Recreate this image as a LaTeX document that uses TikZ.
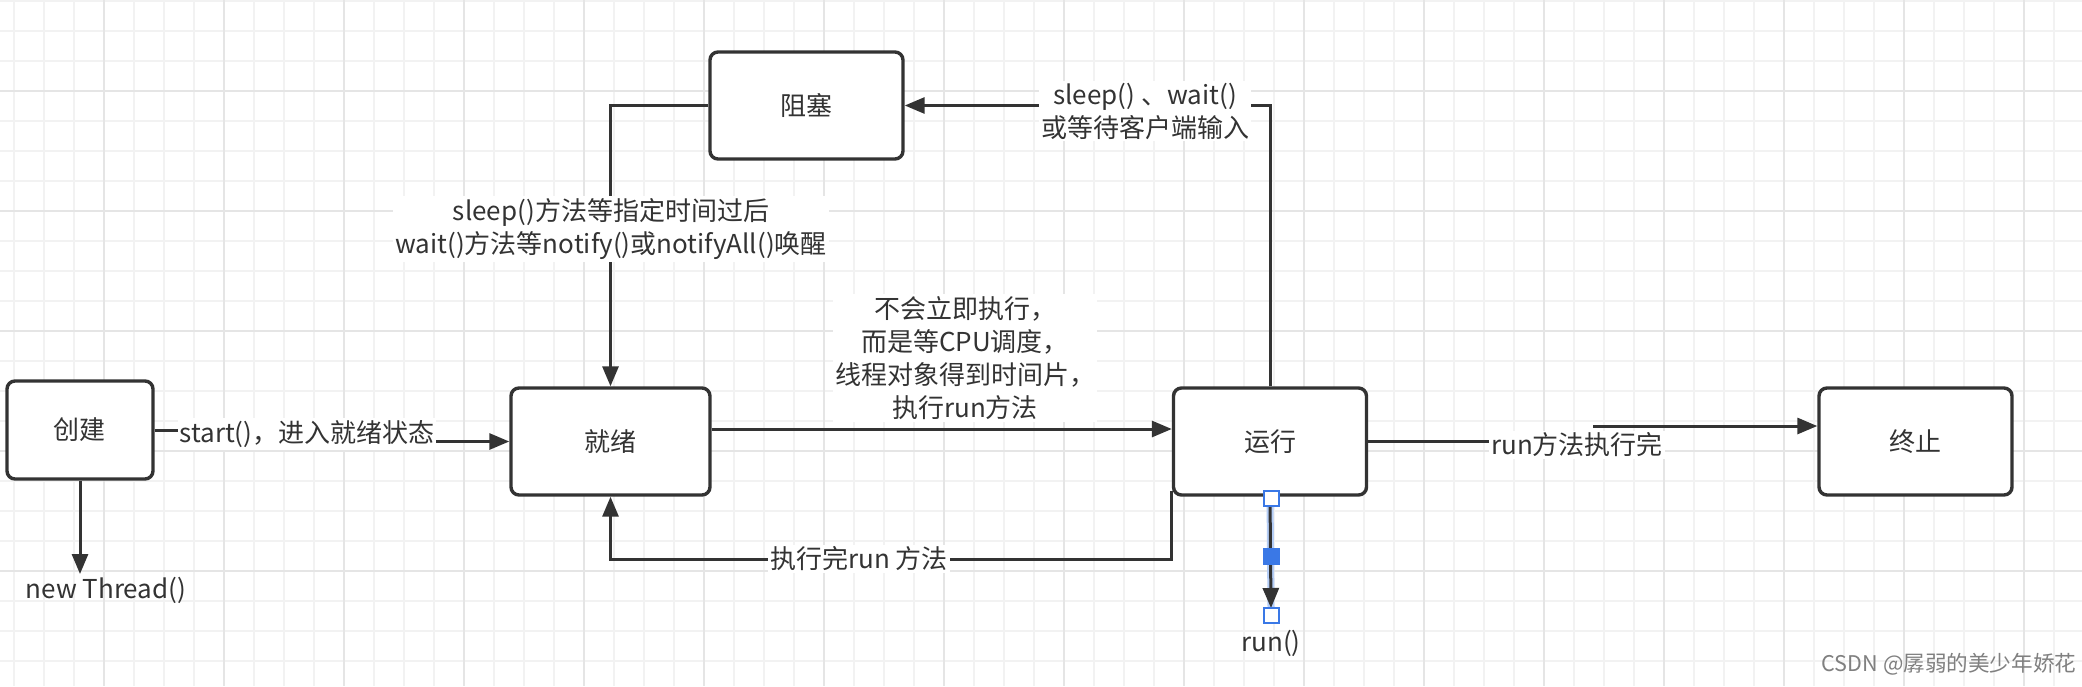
\documentclass[tikz,border=0pt]{standalone}
\usepackage{fontspec}
\setmainfont{Noto Sans CJK SC}
\usetikzlibrary{arrows.meta}

\definecolor{ink}{HTML}{333333}
\definecolor{gridminor}{HTML}{F2F2F2}
\definecolor{gridmajor}{HTML}{E5E5E5}
\definecolor{selblue}{HTML}{3A78E6}
\definecolor{selglow}{HTML}{B4CDF6}

\tikzset{
  state/.style={draw=ink, line width=1.7pt, rounded corners=4pt, fill=white, text=ink,
    minimum width=96.5pt, minimum height=53.5pt, font=\fontsize{13pt}{16pt}\selectfont},
  flow/.style={draw=ink, line width=1.5pt, -{Triangle[length=10pt,width=8pt]}},
  link/.style={draw=ink, line width=1.5pt},
  lbl/.style={fill=white, text=ink, inner sep=1pt, align=center,
    font=\fontsize{13pt}{16.5pt}\selectfont},
  handle/.style={draw=selblue, line width=1pt, fill=white, minimum size=7.5pt, inner sep=0pt}
}

\begin{document}
\begin{tikzpicture}[x=0.5pt,y=-0.5pt]
\useasboundingbox (0,0) rectangle (2082,686);
\fill[white] (0,0) rectangle (2082,686);

% grid
\foreach \gx in {14,44,...,2080} {
 \draw[gridminor, line width=1pt] (\gx,0)--(\gx,686);
}
\foreach \gy in {0.7,30.7,...,686} {
 \draw[gridminor, line width=1pt] (0,\gy)--(2082,\gy);
}
\foreach \gx in {104,224,...,2080} {
 \draw[gridmajor, line width=1pt] (\gx,0)--(\gx,686);
}
\foreach \gy in {90.7,210.7,...,686} {
 \draw[gridmajor, line width=1pt] (0,\gy)--(2082,\gy);
}

% states
\node[state, minimum width=73pt, minimum height=49pt] (create) at (80,430) {创建};
\node[state, minimum width=99.5pt] (ready) at (610.5,441.5) {就绪};
\node[state] (run) at (1270,441.5) {运行};
\node[state] (stop) at (1915.5,441.5) {终止};
\node[state] (block) at (806.5,105.5) {阻塞};

% bends and free ends
\coordinate (bstart) at (307,436);
\coordinate (newend) at (80,574);
\coordinate (backc) at (859,559);
\coordinate (finc) at (1593,426);
\coordinate (runend) at (1271,608);

\draw[flow] (create.east) -| (bstart) |- (ready.west);
\draw[flow] (create.south) -- (newend);
\draw[flow] ([yshift=6.25pt]ready.east) -- ([yshift=6.25pt]run.west);
\draw[flow] ([yshift=3pt]run.south west) |- (backc) -| (ready.south);
\draw[flow] (run.north) |- (block.east);
\draw[flow] (block.west) -| (ready.north);

% labels
\node[lbl] (lstart) at (307,434) {start()，进入就绪状态};
\node[text=ink, font=\fontsize{13pt}{16pt}\selectfont] (lnew) at (106,590) {new Thread()};
\node[lbl] (lcpu) at (965,358) {不会立即执行，\\而是等CPU调度，\\线程对象得到时间片，\\执行run方法};
\node[lbl] (lback) at (859,559) {执行完run 方法};
\node[lbl] (lsleep) at (1145,111) {sleep() 、wait()\\或等待客户端输入};
\node[lbl] (lwake) at (611,229) {sleep()方法等指定时间过后\\wait()方法等notify()或notifyAll()唤醒};
\node[lbl] (lfin) at (1577,445) {run方法执行完};

\draw[link] (run.east) -- (run.east -| lfin.west);
\draw[flow] (finc) -- ([yshift=7.75pt]stop.west);

% selected edge
\draw[selglow, line width=3.5pt] (run.south) -- (runend);
\draw[flow] (run.south) -- (runend);
\node[handle] (h1) at (1271,498) {};
\node[handle, fill=selblue] (h2) at (1271,556) {};
\node[handle] (h3) at (1271,615) {};
\node[text=ink, font=\fontsize{13pt}{16pt}\selectfont] (lrun) at (1271,643) {run()};

\node[text=black!50, font=\fontsize{10.8pt}{13pt}\selectfont] (mark) at (1949,664) {CSDN @孱弱的美少年娇花};

\end{tikzpicture}
\end{document}
